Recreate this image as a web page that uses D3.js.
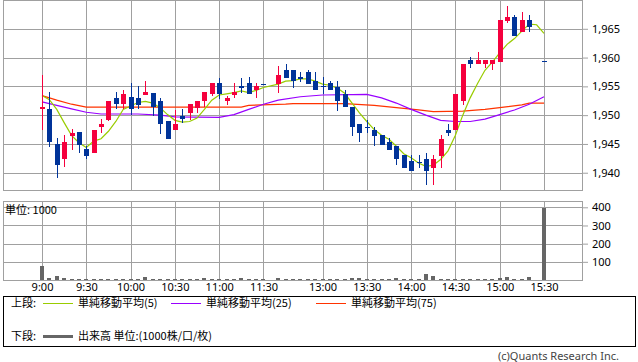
<!DOCTYPE html>
<html>
<head>
<meta charset="utf-8">
<script src="https://cdn.jsdelivr.net/npm/d3@7"></script>
<style>
  body { margin: 0; background: #fff; }
  svg { display: block; font-family: "Noto Sans CJK JP", "Noto Sans", sans-serif; }
</style>
</head>
<body>
<div id="chart"></div>
<script>
// 5-minute slots: 0 = 9:00 ... 30 = 11:30, 31 = lunch gap, 32 = 12:30 ... 68 = 15:30
const opens = [1951, 1951, 1945, 1942.3, 1946.4, 1947, 1944.1, 1943.4, 1947.9, 1949.2,
  1953, 1952, 1953.1, 1953, 1953.5, 1953.9, 1952.5, 1949, 1947.4, 1949.8,
  1950.3, 1951.3, 1952.4, 1953.7, 1955.5, 1952.4, 1953.5, 1955, 1955.5, 1954.3,
  1955.4, null, 1955.4, 1957.9, 1957.9, 1956.6, 1957.5, 1955.9, 1955, 1955.5,
  1954.9, 1953.7, 1951.4, 1948.5, 1948, 1947.5, 1946.5, 1945.4, 1944.6, 1943,
  1942, 1941.9, 1942.4, 1940.9, 1942.9, 1947.5, 1947.4, 1952.4, 1959.5, 1958.8,
  1958.8, 1958.8, 1959.3, 1966.4, 1967, 1964.4, 1966.6, null, 1959.4];
const highs = [1957, 1954, 1946, 1946.5, 1947.6, 1947, 1944.6, 1947.5, 1949.4, 1952.5,
  1954, 1954.4, 1955.5, 1955, 1956, 1953.9, 1953, 1949, 1950.9, 1951,
  1952, 1952.5, 1954, 1955.5, 1956.5, 1953.3, 1955.5, 1956.5, 1956.6, 1955.5,
  1955.4, null, 1958.5, 1958.9, 1957.9, 1957.5, 1957.9, 1957.5, 1956.6, 1956,
  1956, 1954.4, 1951.4, 1948.5, 1949.1, 1948, 1946.5, 1946, 1944.6, 1943,
  1943, 1943, 1943.5, 1943.1, 1946.5, 1948.5, 1953.6, 1958.9, 1960.1, 1961,
  1959.5, 1959.5, 1966.6, 1969, 1967.4, 1968, 1967.4, null, 1959.4];
const lows = [1947.4, 1944.4, 1939, 1941, 1943.9, 1943.5, 1942.4, 1943.4, 1946.9, 1949,
  1951.1, 1951, 1950.1, 1951, 1953.5, 1949.8, 1946.8, 1945.8, 1947.4, 1948.7,
  1949.2, 1950.3, 1951.4, 1953.3, 1952.8, 1951.8, 1953, 1953.9, 1953.6, 1953,
  1955.4, null, 1953.9, 1956.5, 1954.8, 1955.8, 1955.4, 1954.3, 1953.7, 1954.3,
  1950.8, 1951.4, 1946.3, 1945.3, 1946.9, 1944.7, 1944.8, 1943.9, 1941.4, 1940.9,
  1940.3, 1940.9, 1937.9, 1937.9, 1940.9, 1946.3, 1947.4, 1951.8, 1958.2, 1958.8,
  1958.2, 1957.8, 1959.3, 1966, 1963.8, 1964.4, 1964.4, null, 1959.4];
const closes = [1951.5, 1945.3, 1941.3, 1945.4, 1946.9, 1944.8, 1942.9, 1947.5, 1948.5, 1952.5,
  1951.9, 1953.6, 1951, 1951.8, 1954, 1951.5, 1948.5, 1945.8, 1948.5, 1949.4,
  1952, 1952.5, 1954, 1955.5, 1953.7, 1953, 1954, 1954.8, 1953.6, 1955,
  1955.4, null, 1957, 1956.5, 1955.9, 1956.3, 1955.4, 1954.3, 1954.9, 1954.3,
  1952.4, 1951.4, 1947.9, 1946.9, 1948, 1946.3, 1944.8, 1943.9, 1942.3, 1940.9,
  1940.3, 1941.8, 1940.3, 1942.4, 1945.9, 1946.9, 1953.6, 1958.9, 1958.8, 1959.5,
  1959.5, 1959.5, 1966.6, 1967, 1963.8, 1966.6, 1965.3, null, 1959.4];
const volumes = [77, 11, 22, 11, 3, 3, 4, 3, 3, 3,
  5, 3, 5, 5, 16, 6, 6, 6, 3, 3,
  3, 3, 11, 3, 3, 3, 5, 11, 3, 5,
  3, 0, 11, 5, 5, 5, 3, 5, 5, 5,
  5, 3, 11, 11, 5, 5, 5, 3, 11, 5,
  3, 3, 33, 22, 5, 3, 5, 5, 5, 3,
  3, 5, 11, 16, 5, 5, 16, 0, 398];
const ma5 = [1953.4, 1952.7, 1951, 1948.7, 1946.5, 1945.2, 1944.4, 1945.5, 1945.9, 1947.2,
  1948.9, 1951, 1951.6, 1952.2, 1952.4, 1952.1, 1951.3, 1950.1, 1949.1, 1948.8,
  1948.9, 1949.5, 1951, 1952.6, 1953.5, 1953.7, 1953.9, 1954.2, 1953.9, 1954.3,
  1954.8, null, 1955.4, 1955.9, 1956, 1956.3, 1956.3, 1955.9, 1955.4, 1955.2,
  1954.7, 1953.8, 1952.1, 1950.4, 1948.9, 1947.5, 1946.5, 1945.8, 1944.6, 1943.3,
  1942.6, 1941.7, 1941.1, 1941.3, 1942.3, 1943.8, 1946.5, 1950, 1953, 1955.5,
  1957.8, 1959.2, 1960.8, 1962.3, 1963.3, 1964.6, 1965.8, 1965.7, 1964.2];
// [slot, value] read at visible bends
const ma25 = [[0, 1952.3], [2, 1951.7], [4, 1951.1], [6, 1950.5], [8, 1950.2], [13, 1950.2],
  [16, 1950.0], [18, 1949.7], [24, 1949.6], [26, 1950.1], [28, 1951.0], [30, 1951.9],
  [32, 1952.6], [35, 1953.2], [38, 1953.5], [44, 1953.6], [46, 1953.0], [48, 1952.1],
  [50, 1951.0], [52, 1950.0], [54, 1949.1], [56, 1948.9], [58, 1948.9], [60, 1949.3],
  [62, 1950.1], [64, 1950.9], [66, 1951.9], [68, 1953.2]];
const ma75 = [[0, 1953.4], [2, 1952.6], [4, 1951.9], [6, 1951.4], [27, 1951.4], [28, 1951.7],
  [33, 1951.9], [34, 1952.0], [41, 1952.0], [45, 1951.7], [48, 1951.3], [51, 1950.9],
  [53, 1950.6], [57, 1950.7], [60, 1951.0], [62, 1951.3], [65, 1951.8], [66, 1952.1],
  [68, 1952.1]];
const timeSlots = [0, 6, 12, 18, 24, 30, 38, 44, 50, 56, 62, 68];
const timeLabels = ['9:00', '9:30', '10:00', '10:30', '11:00', '11:30',
  '13:00', '13:30', '14:00', '14:30', '15:00', '15:30'];
const priceTicks = [1940, 1945, 1950, 1955, 1960, 1965];
const volumeTicks = [100, 200, 300, 400];

const UP = '#f5003d';
const DOWN = '#003399';
const GRID = '#a0a0a0';

const svg = d3.select('#chart').append('svg')
    .attr('width', 638)
    .attr('height', 362);

const left = 3;
const right = 582;
const pricePanel = { y0: 0, y1: 190 };
const volPanel = { y0: 201, y1: 280 };

const x = d3.scaleLinear().domain([0, 68]).range([42, 544]);
const y = d3.scaleLinear().domain([1937, 1970]).range([pricePanel.y1, pricePanel.y0]);
const yv = d3.scaleLinear().domain([0, 400]).range([volPanel.y1, 207.3]);

const crisp = v => Math.round(v) + 0.5;

// Grid lines and frame for one panel
function grid(g, yScale, ticks, panel) {
  g.selectAll('.h').data(ticks).enter().append('line')
      .attr('x1', left).attr('x2', right)
      .attr('y1', d => crisp(yScale(d))).attr('y2', d => crisp(yScale(d)))
      .attr('stroke', GRID);
  g.selectAll('.v').data(timeSlots).enter().append('line')
      .attr('x1', d => crisp(x(d))).attr('x2', d => crisp(x(d)))
      .attr('y1', panel.y0).attr('y2', panel.y1)
      .attr('stroke', GRID);
  g.append('rect')
      .attr('x', left + 0.5).attr('y', panel.y0 + 0.5)
      .attr('width', right - left).attr('height', panel.y1 - panel.y0)
      .attr('fill', 'none').attr('stroke', GRID);
}
grid(svg.append('g').attr('shape-rendering', 'crispEdges'), y, priceTicks, pricePanel);
grid(svg.append('g').attr('shape-rendering', 'crispEdges'), yv, volumeTicks, volPanel);

// Axes
function styleAxis(g) {
  g.select('.domain').remove();
  g.selectAll('.tick line').attr('stroke', GRID);
  g.selectAll('.tick text').attr('fill', '#000').style('font-size', '11px')
      .style('font-family', '"Noto Sans", sans-serif');
}
svg.append('g')
    .attr('transform', `translate(${right},0)`)
    .call(d3.axisRight(y).tickValues(priceTicks).tickSize(6).tickPadding(4)
      .tickFormat(d3.format(',')))
    .call(styleAxis);
svg.append('g')
    .attr('transform', `translate(${right},0)`)
    .call(d3.axisRight(yv).tickValues(volumeTicks).tickSize(6).tickPadding(4))
    .call(styleAxis);
svg.append('g')
    .attr('transform', `translate(0,${volPanel.y1})`)
    .call(d3.axisBottom(x).tickValues(timeSlots).tickSize(0).tickPadding(3)
      .tickFormat((d, i) => timeLabels[i]))
    .call(styleAxis);

// Moving averages
const lineFrom = d3.line()
    .defined(d => d[1] != null)
    .x(d => x(d[0]))
    .y(d => y(d[1]));
const ma5Points = ma5.map((v, i) => [i, v]).filter(d => d[1] != null);
[[ma75, '#ff3300'], [ma25, '#9900ff'], [ma5Points, '#99cc00']].forEach(([pts, color]) => {
  svg.append('path')
      .attr('d', lineFrom(pts))
      .attr('fill', 'none')
      .attr('stroke', color)
      .attr('stroke-width', 1.2);
});

// Candles
const candles = opens.map((o, i) => ({ i, o, h: highs[i], l: lows[i], c: closes[i] }))
    .filter(d => d.o != null);
const cg = svg.append('g').attr('shape-rendering', 'crispEdges');
const candle = cg.selectAll('g').data(candles).enter().append('g')
    .attr('fill', d => (d.c > d.o ? UP : DOWN));
candle.append('rect')
    .attr('x', d => Math.round(x(d.i)))
    .attr('width', 1)
    .attr('y', d => y(d.h))
    .attr('height', d => Math.max(1, y(d.l) - y(d.h)));
candle.append('rect')
    .attr('x', d => Math.round(x(d.i)) - 2)
    .attr('width', 5)
    .attr('y', d => y(Math.max(d.o, d.c)))
    .attr('height', d => Math.max(1, Math.abs(y(d.o) - y(d.c))));

// Volume
svg.append('g').attr('shape-rendering', 'crispEdges')
  .selectAll('rect').data(volumes.map((v, i) => ({ i, v })).filter(d => d.v > 0))
  .enter().append('rect')
    .attr('x', d => Math.round(x(d.i)) - 2)
    .attr('width', 4)
    .attr('y', d => yv(d.v))
    .attr('height', d => yv(0) - yv(d.v))
    .attr('fill', '#666');

svg.append('text')
    .attr('x', 5).attr('y', 214)
    .style('font-size', '11px')
    .text('単位: 1000');

// Legend
const lg = svg.append('g').style('font-size', '11px');
lg.append('rect')
    .attr('x', 3.5).attr('y', 296.5).attr('width', 632).attr('height', 50)
    .attr('fill', 'none').attr('stroke', '#000');
lg.append('text').attr('x', 11).attr('y', 307).text('上段:');
lg.append('text').attr('x', 11).attr('y', 340).text('下段:');
const legendItems = [
  { x1: 43, color: '#99cc00', label: '単純移動平均(5)' },
  { x1: 171, color: '#9900ff', label: '単純移動平均(25)' },
  { x1: 316, color: '#ff3300', label: '単純移動平均(75)' },
];
legendItems.forEach((d) => {
  lg.append('line')
      .attr('x1', d.x1).attr('x2', d.x1 + 30)
      .attr('y1', 303.5).attr('y2', 303.5)
      .attr('stroke', d.color);
  lg.append('text').attr('x', d.x1 + 35).attr('y', 307).text(d.label);
});
lg.append('rect')
    .attr('x', 43).attr('y', 335).attr('width', 30).attr('height', 3)
    .attr('fill', '#666');
lg.append('text').attr('x', 78).attr('y', 340).text('出来高 単位:(1000株/口/枚)');

svg.append('text')
    .attr('x', 619).attr('y', 360)
    .attr('text-anchor', 'end')
    .attr('fill', '#444')
    .style('font-size', '11px')
    .style('font-family', '"Noto Sans", sans-serif')
    .text('(c)Quants Research Inc.');
</script>
</body>
</html>
